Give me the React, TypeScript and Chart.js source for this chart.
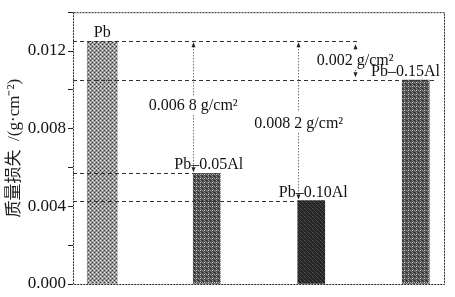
import React, { useEffect, useRef } from 'react';
import { Chart, registerables } from 'chart.js';

Chart.register(...registerables);

const categories = ['Pb', 'Pb–0.05Al', 'Pb–0.10Al', 'Pb–0.15Al'];
const massLoss = [0.0125, 0.0057, 0.0043, 0.0105];
const yTickValues = [0, 0.004, 0.008, 0.012];
const yAxisTitle = '质量损失  /(g·cm⁻²)';
const diffLabels = ['0.006 8 g/cm²', '0.008 2 g/cm²', '0.002 g/cm²'];

const SERIF = '"Liberation Serif", "Times New Roman", "Noto Sans CJK SC", serif';

function makePattern(bg: string, pts: [number, number, string][], size: number) {
  const c = document.createElement('canvas');
  c.width = size;
  c.height = size;
  const g = c.getContext('2d')!;
  g.fillStyle = bg;
  g.fillRect(0, 0, size, size);
  for (const [px, py, col] of pts) {
    g.fillStyle = col;
    g.fillRect(px, py, 1, 1);
  }
  return g.createPattern(c, 'repeat')!;
}

function arrowHead(ctx: CanvasRenderingContext2D, x: number, y: number, dir: number) {
  ctx.beginPath();
  ctx.moveTo(x, y);
  ctx.lineTo(x - 2, y + dir * 5);
  ctx.lineTo(x + 2, y + dir * 5);
  ctx.closePath();
  ctx.fill();
}

const annotPlugin = {
  id: 'annot',
  afterDatasetsDraw(chart: any) {
    const { ctx, chartArea: a, scales } = chart;
    const xs = scales.x;
    const ys = scales.y;
    const bars = massLoss.map((_, i) => chart.getDatasetMeta(i).data[0]);
    const leftEdge = (i: number) => bars[i].x - bars[i].width / 2;
    ctx.save();
    // frame
    ctx.strokeStyle = '#222';
    ctx.lineWidth = 1;
    ctx.setLineDash([2, 1]);
    ctx.strokeRect(a.left + 0.5, a.top + 0.5, a.right - a.left - 1, a.bottom - a.top);

    // horizontal dashed reference lines
    ctx.strokeStyle = '#333';
    ctx.setLineDash([4, 3]);
    const hline = (v: number, x2: number) => {
      const yy = Math.round(ys.getPixelForValue(v)) + 0.5;
      ctx.beginPath();
      ctx.moveTo(a.left, yy);
      ctx.lineTo(x2, yy);
      ctx.stroke();
    };
    hline(massLoss[0], xs.getPixelForValue(2.45));
    hline(massLoss[3], xs.getPixelForValue(3.2));
    hline(massLoss[1], leftEdge(1));
    hline(massLoss[2], leftEdge(2));

    // vertical dotted dimension lines
    ctx.setLineDash([1, 2]);
    ctx.fillStyle = '#222';
    const vline = (xx: number, y1: number, y2: number) => {
      ctx.beginPath();
      ctx.moveTo(Math.round(xx) + 0.5, y1);
      ctx.lineTo(Math.round(xx) + 0.5, y2);
      ctx.stroke();
    };
    const yTop = ys.getPixelForValue(massLoss[0]);
    // 0.0068
    const x1 = leftEdge(1);
    const y1b = ys.getPixelForValue(massLoss[1]);
    const l1y = (yTop + y1b) / 2 - 2;
    vline(x1, yTop + 2, l1y - 10);
    vline(x1, l1y + 10, y1b - 2);
    arrowHead(ctx, Math.round(x1) + 0.5, yTop + 1, 1);
    arrowHead(ctx, Math.round(x1) + 0.5, y1b - 1, -1);
    // 0.0082
    const x2 = leftEdge(2);
    const y2b = ys.getPixelForValue(massLoss[2]);
    const l2y = yTop + 82;
    vline(x2, yTop + 2, l2y - 12);
    vline(x2, l2y + 10, y2b - 2);
    arrowHead(ctx, Math.round(x2) + 0.5, yTop + 1, 1);
    arrowHead(ctx, Math.round(x2) + 0.5, y2b - 1, -1);
    // 0.002
    const x3 = xs.getPixelForValue(2.42);
    const y3b = ys.getPixelForValue(massLoss[3]);
    vline(x3, yTop + 4, yTop + 10);
    vline(x3, y3b - 10, y3b - 4);
    arrowHead(ctx, Math.round(x3) + 0.5, yTop + 3, 1);
    arrowHead(ctx, Math.round(x3) + 0.5, y3b - 3, -1);

    // texts
    ctx.setLineDash([]);
    ctx.fillStyle = '#111';
    ctx.font = `16px ${SERIF}`;
    ctx.textAlign = 'center';
    ctx.textBaseline = 'middle';
    ctx.fillText(diffLabels[0], x1, l1y);
    ctx.fillText(diffLabels[1], x2 + 1, l2y);
    ctx.fillText(diffLabels[2], x3, (yTop + y3b) / 2);

    // bar labels
    ctx.textBaseline = 'alphabetic';
    categories.forEach((c, i) => {
      const w = ctx.measureText(c).width;
      let cx = bars[i].x + (i === 0 ? 0 : 2);
      cx = Math.min(cx, a.right - 5 - w / 2);
      ctx.fillText(c, cx, bars[i].y - 4);
    });
    ctx.restore();
  },
};

export default function App() {
  const ref = useRef<HTMLCanvasElement>(null);
  useEffect(() => {
    const canvas = ref.current!;
    const pPb = makePattern('#9a9a9a', [[0, 0, '#e8e8e8'], [2, 2, '#e8e8e8'], [2, 0, '#333'], [0, 2, '#333'], [1, 1, '#bbb'], [3, 3, '#777']], 4);
    const pMid = makePattern('#4a4a4a', [[0, 0, '#999'], [1, 1, '#777'], [2, 2, '#999'], [3, 3, '#777'], [2, 0, '#2a2a2a'], [0, 2, '#cfcfcf']], 4);
    const pDark = makePattern('#262626', [[0, 0, '#555'], [1, 1, '#444'], [2, 2, '#555'], [3, 3, '#3a3a3a']], 4);
    const fills = [pPb, pMid, pDark, pMid];
    const chart = new Chart(canvas, {
      type: 'bar',
      data: {
        datasets: massLoss.map((v, i) => ({
          label: categories[i],
          data: [{ x: i, y: v }],
          backgroundColor: fills[i],
          borderWidth: 0,
          barThickness: i === 0 ? 30 : 27,
          grouped: false,
        })),
      } as any,
      options: {
        animation: false,
        responsive: false,
        maintainAspectRatio: false,
        layout: { padding: { top: 0, right: 10, bottom: 13, left: 0 } },
        plugins: { legend: { display: false }, tooltip: { enabled: false } },
        scales: {
          x: { type: 'linear', min: -0.28, max: 3.28, offset: false, display: false },
          y: {
            min: 0,
            max: 0.014,
            afterFit: (s: any) => {
              s.width = 73;
            },
            ticks: {
              stepSize: 0.002,
              color: '#111',
              padding: 2,
              font: { family: SERIF, size: 17 },
              callback: (v: any) =>
                yTickValues.some((t) => Math.abs(t - Number(v)) < 1e-9) ? Number(v).toFixed(3) : '',
            },
            grid: { drawOnChartArea: false, tickLength: 5, color: '#222' },
            border: { display: false },
            title: {
              display: true,
              text: yAxisTitle,
              color: '#222',
              font: { family: SERIF, size: 17 },
              padding: { top: 4, bottom: 0 },
            },
          },
        },
      } as any,
      plugins: [annotPlugin],
    });
    return () => chart.destroy();
  }, []);
  return (
    <div style={{ position: 'fixed', left: 0, top: 0, width: 455, height: 297, background: '#fff' }}>
      <canvas ref={ref} width={455} height={297} style={{ width: 455, height: 297, display: 'block' }} />
    </div>
  );
}
